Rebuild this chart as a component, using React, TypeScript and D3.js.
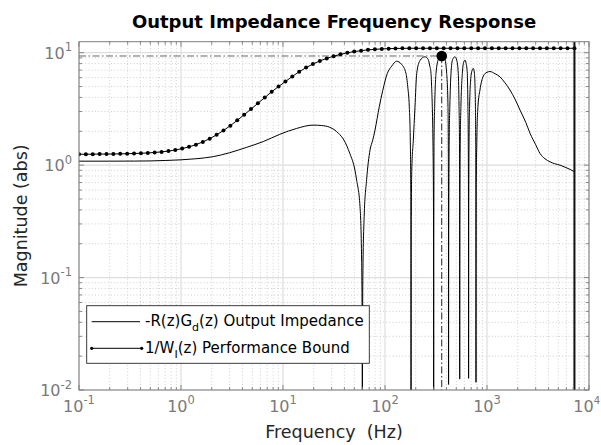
import React from 'react';
import * as d3 from 'd3';

const W = 601;
const H = 445;

// Plot frame
const L = 79;
const R = 589;
const T = 41.7;
const B = 390;

const titleText = 'Output Impedance Frequency Response';
const xLabelText = 'Frequency  (Hz)';
const yLabelText = 'Magnitude (abs)';

const xTickExps = [-1, 0, 1, 2, 3, 4];
const yTickExps = [-2, -1, 0, 1];
const xDomain = [0.1, 10000];
const yDomain = [0.01, 12.53];

// 1/W_I(z) performance bound (with point markers)
const boundFreq = [
  0.1, 0.1168, 0.1364, 0.1594, 0.1861, 0.2174, 0.2539, 0.2966, 0.3464, 0.4046,
  0.4726, 0.552, 0.6448, 0.7531, 0.8796, 1.027, 1.2, 1.402, 1.637, 1.912,
  2.234, 2.61, 3.049, 3.561, 4.159, 4.858, 5.675, 6.628, 7.744, 9.042,
  10.56, 12.34, 14.41, 16.84, 19.66, 22.97, 26.83, 31.33, 36.6, 42.74,
  49.93, 58.32, 68.12, 79.57, 92.96, 108.6, 126.8, 148.2, 173.1, 202.1,
  236.1, 275.8, 322.2, 376.3, 439.5, 513.4, 599.6, 700.3, 818, 955.4,
  1116, 1303, 1522, 1778, 2077, 2426, 2833, 3309, 3865, 4515,
  5273, 6159, 7200,
];
const boundMag = [
  1.25, 1.25, 1.253, 1.254, 1.255, 1.257, 1.26, 1.264, 1.269, 1.275,
  1.284, 1.296, 1.312, 1.334, 1.364, 1.403, 1.455, 1.522, 1.609, 1.72,
  1.859, 2.033, 2.246, 2.503, 2.808, 3.15, 3.55, 3.99, 4.49, 5.0,
  5.54, 6.15, 6.77, 7.37, 7.93, 8.45, 8.9, 9.31, 9.67, 9.98,
  10.23, 10.43, 10.6, 10.72, 10.81, 10.87, 10.91, 10.93, 10.95, 10.95,
  10.95, 10.95, 10.95, 10.95, 10.95, 10.95, 10.95, 10.95, 10.95, 10.95,
  10.95, 10.95, 10.95, 10.95, 10.95, 10.95, 10.95, 10.95, 10.95, 10.95,
  10.95, 10.95, 10.95,
];

// -R(z)G_d(z) output impedance
const zFreq = [
  0.1, 0.2, 0.35, 0.5, 0.7, 1.0, 1.4, 2.07, 3.0, 4.4, 6.4, 9.3, 13.6, 19.7, 24, 28.8, 35, 39.6, 45.2, 50.7, 52.7, 56.9, 59, 59.7, 60,
  60.25, 60.8, 62.5, 66, 71.3, 75.8, 79.8, 87.9, 95, 105.3, 116.4, 130, 145, 160.6, 167, 173, 177, 179, 179.7, 180,
  180.3, 181, 183, 189.5, 196.8, 204.6, 220, 246, 265, 275, 282.5, 287, 290.9, 295, 298.5, 299.6, 300,
  300.4, 301.2, 302.5, 306.9, 316.2, 335, 360, 385, 402.6, 414.6, 417.5, 419, 419.7, 420,
  420.3, 421, 423, 426, 432, 443.6, 460, 485, 505, 523, 532, 537, 539, 539.7, 540,
  540.3, 541, 543, 547, 555, 573, 590, 608, 625, 641, 650, 655, 658, 659.6, 660,
  660.3, 661, 663, 667, 675, 690, 712, 734, 752, 763, 770, 775, 778, 779.6, 780,
  780.4, 781.5, 785, 795, 815, 853, 921, 1000, 1069, 1200, 1341, 1500, 1679, 1900, 2107, 2400, 2642, 3000, 3311, 3700, 4150, 4600, 5203, 5800, 6521, 7200,
];
const zMag = [
  1.085, 1.085, 1.087, 1.09, 1.1, 1.115, 1.14, 1.19, 1.29, 1.44, 1.62, 1.88, 2.12, 2.27, 2.25, 2.17, 1.92, 1.67, 1.27, 0.905, 0.737, 0.427, 0.14, 0.04, 0.001,
  0.03, 0.12, 0.35, 0.74, 1.36, 1.67, 2.05, 3.31, 4.6, 6.54, 7.6, 8.4, 7.9, 6.54, 5.0, 3.31, 1.67, 0.6, 0.15, 0.001,
  0.1, 0.35, 0.9, 1.67, 3.31, 6.54, 8.5, 9.2, 8.7, 7.6, 6.54, 4.8, 3.31, 1.67, 0.5, 0.1, 0.001,
  0.1, 0.4, 1.67, 3.31, 6.54, 8.8, 9.35, 8.8, 6.54, 3.31, 1.5, 0.5, 0.1, 0.0112,
  0.04, 0.15, 0.6, 1.67, 3.31, 6.54, 8.7, 9.2, 8.6, 6.54, 3.31, 1.67, 0.6, 0.15, 0.0125,
  0.04, 0.15, 0.6, 1.67, 3.31, 6.54, 8.2, 8.6, 8.0, 6.54, 3.31, 1.67, 0.6, 0.15, 0.0127,
  0.04, 0.15, 0.6, 1.67, 3.31, 5.6, 6.9, 7.26, 6.6, 5.0, 3.31, 1.67, 0.6, 0.15, 0.0117,
  0.05, 0.2, 0.7, 1.67, 3.31, 4.66, 6.2, 6.7, 6.8, 6.5, 6.1, 5.4, 4.66, 3.8, 3.09, 2.4, 1.92, 1.52, 1.27, 1.14, 1.07, 1.03, 1.0, 0.96, 0.917, 0.873,
];

// Peak marker and Nyquist line
const peakFreq = 360;
const peakMag = 9.35;
const nyquistFreq = 7200;

const legendLabels = ['Output Impedance', 'Performance Bound'];

const FONT = '"DejaVu Sans", Verdana, sans-serif';

export default function App() {
  const x = d3.scaleLog().domain(xDomain).range([L, R]);
  const y = d3.scaleLog().domain(yDomain).range([B, T]);

  const line = d3
    .line<[number, number]>()
    .x((d) => x(d[0]))
    .y((d) => y(d[1]))
    .curve(d3.curveMonotoneX);

  const zPts: [number, number][] = zFreq.map((f, i) => [f, zMag[i]]);
  const bPts: [number, number][] = boundFreq.map((f, i) => [f, boundMag[i]]);

  const xMinor: number[] = [];
  for (let e = -1; e < 4; e++) for (let k = 2; k <= 9; k++) xMinor.push(k * Math.pow(10, e));
  const yMinor: number[] = [];
  for (let e = -2; e < 2; e++)
    for (let k = 2; k <= 9; k++) {
      const v = k * Math.pow(10, e);
      if (v <= yDomain[1]) yMinor.push(v);
    }

  const axisColor = '#7d7d7d';
  const tickLabelColor = '#7a7a7a';
  const majLen = 5;
  const minLen = 3;

  return (
    <svg
      width={W}
      height={H}
      viewBox={`0 0 ${W} ${H}`}
      style={{ position: 'absolute', left: 0, top: 0, display: 'block', background: '#fff' }}
      fontFamily={FONT}
    >
      <defs>
        <clipPath id="plotClip">
          <rect x={L} y={T} width={R - L} height={B - T} />
        </clipPath>
      </defs>
      <rect x={0} y={0} width={W} height={H} fill="#fff" />

      {/* minor grid */}
      <g stroke="#c4c4c4" strokeWidth={0.8} strokeDasharray="1,2.2">
        {xMinor.map((v) => (
          <line key={'xm' + v} x1={x(v)} x2={x(v)} y1={T} y2={B} />
        ))}
        {yMinor.map((v) => (
          <line key={'ym' + v} x1={L} x2={R} y1={y(v)} y2={y(v)} />
        ))}
      </g>
      {/* major grid */}
      <g stroke="#dedede" strokeWidth={1.2}>
        {xTickExps.map((e) => (
          <line key={'xg' + e} x1={x(Math.pow(10, e))} x2={x(Math.pow(10, e))} y1={T} y2={B} />
        ))}
        {yTickExps.map((e) => (
          <line key={'yg' + e} x1={L} x2={R} y1={y(Math.pow(10, e))} y2={y(Math.pow(10, e))} />
        ))}
      </g>

      <g clipPath="url(#plotClip)">
        {/* reference dash-dot lines */}
        <line
          x1={L}
          x2={x(peakFreq)}
          y1={y(peakMag)}
          y2={y(peakMag)}
          stroke="#555"
          strokeWidth={0.9}
          strokeDasharray="7,2.5,1.5,2.5"
        />
        <line
          x1={x(peakFreq)}
          x2={x(peakFreq)}
          y1={y(peakMag)}
          y2={B}
          stroke="#222"
          strokeWidth={1}
          strokeDasharray="7,2.5,1.5,2.5"
        />
        {/* impedance */}
        <path d={line(zPts) || ''} fill="none" stroke="#000" strokeWidth={1} />
        {/* bound */}
        <path d={line(bPts) || ''} fill="none" stroke="#000" strokeWidth={1} />
        {bPts.map((p, i) => (
          <circle key={'bm' + i} cx={x(p[0])} cy={y(p[1])} r={2} fill="#000" />
        ))}
        {/* Nyquist line */}
        <line x1={x(nyquistFreq)} x2={x(nyquistFreq)} y1={T} y2={B} stroke="#111" strokeWidth={2} />
        {/* peak marker */}
        <circle cx={x(peakFreq)} cy={y(peakMag)} r={5.3} fill="#000" />
      </g>

      {/* axes box */}
      <rect x={L} y={T} width={R - L} height={B - T} fill="none" stroke={axisColor} strokeWidth={1} />
      <g stroke={axisColor} strokeWidth={0.9}>
        {xTickExps.map((e) => {
          const xx = x(Math.pow(10, e));
          return (
            <g key={'xt' + e}>
              <line x1={xx} x2={xx} y1={B} y2={B - majLen} />
              <line x1={xx} x2={xx} y1={T} y2={T + majLen} />
            </g>
          );
        })}
        {xMinor.map((v) => (
          <g key={'xtm' + v}>
            <line x1={x(v)} x2={x(v)} y1={B} y2={B - minLen} />
            <line x1={x(v)} x2={x(v)} y1={T} y2={T + minLen} />
          </g>
        ))}
        {yTickExps.map((e) => {
          const yy = y(Math.pow(10, e));
          return (
            <g key={'yt' + e}>
              <line x1={L} x2={L + majLen} y1={yy} y2={yy} />
              <line x1={R} x2={R - majLen} y1={yy} y2={yy} />
            </g>
          );
        })}
        {yMinor.map((v) => (
          <g key={'ytm' + v}>
            <line x1={L} x2={L + minLen} y1={y(v)} y2={y(v)} />
            <line x1={R} x2={R - minLen} y1={y(v)} y2={y(v)} />
          </g>
        ))}
      </g>

      {/* tick labels */}
      <g fill={tickLabelColor} fontSize={16}>
        {xTickExps.map((e, i) => {
          const last = i === xTickExps.length - 1;
          return (
            <text
              key={'xl' + e}
              x={last ? 600 : x(Math.pow(10, e))}
              y={B + 21.5}
              textAnchor={last ? 'end' : 'middle'}
            >
              10
              <tspan dy={-7.5} fontSize={last ? 10 : 11.5}>
                {e < 0 ? '-' + Math.abs(e) : String(e)}
              </tspan>
            </text>
          );
        })}
        {yTickExps.map((e) => (
          <text key={'yl' + e} x={72} y={y(Math.pow(10, e)) + 6} textAnchor="end">
            10
            <tspan dy={-7.5} fontSize={11.5}>
              {e < 0 ? '-' + Math.abs(e) : String(e)}
            </tspan>
          </text>
        ))}
      </g>

      {/* title and axis labels */}
      <text x={(L + R) / 2} y={27.5} textAnchor="middle" fontSize={18} fontWeight="bold" fill="#000">
        {titleText}
      </text>
      <text x={(L + R) / 2} y={438} textAnchor="middle" fontSize={17.5} fill="#262626" xmlSpace="preserve">
        {xLabelText}
      </text>
      <text
        transform={`translate(27,${(T + B) / 2}) rotate(-90)`}
        textAnchor="middle"
        fontSize={17.5}
        fill="#262626"
      >
        {yLabelText}
      </text>

      {/* legend */}
      <g>
        <rect x={86.7} y={305.7} width={282.6} height={57.6} fill="#fff" stroke="#262626" strokeWidth={0.9} />
        <line x1={91.7} x2={140} y1={321.7} y2={321.7} stroke="#000" strokeWidth={1} />
        <text x={145} y={326} fontSize={15} fill="#000">
          -R(z)G
          <tspan dy={5} fontSize={11}>d</tspan>
          <tspan dy={-5}>(z) {legendLabels[0]}</tspan>
        </text>
        <line x1={91.7} x2={141.7} y1={348.3} y2={348.3} stroke="#000" strokeWidth={1} />
        <circle cx={91.7} cy={348.3} r={1.6} fill="#000" />
        <circle cx={141.7} cy={348.3} r={1.6} fill="#000" />
        <text x={145} y={352.5} fontSize={15} fill="#000">
          1/W
          <tspan dy={5} fontSize={11}>I</tspan>
          <tspan dy={-5}>(z) {legendLabels[1]}</tspan>
        </text>
      </g>
    </svg>
  );
}
